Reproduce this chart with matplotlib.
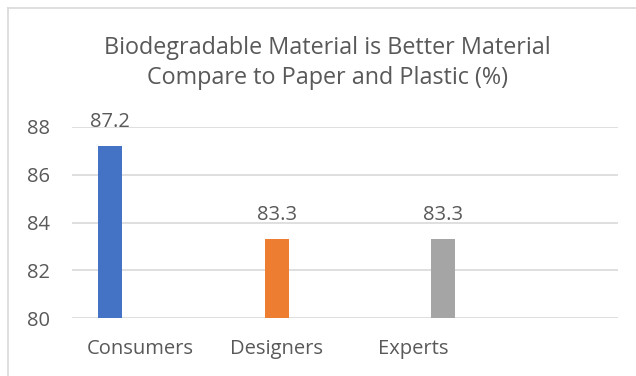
import matplotlib.pyplot as plt
from matplotlib.lines import Line2D

categories = ['Consumers', 'Designers', 'Experts', '']
values = [87.2, 83.3, 83.3]
colors = ['#4472C4', '#ED7D31', '#A5A5A5']
offsets = [-0.22, 0.0, 0.22]
yticks = [80, 82, 84, 86, 88]

plt.rcParams['font.family'] = ['Open Sans', 'DejaVu Sans']
txt = '#595959'

fig = plt.figure(figsize=(6.36, 3.76), dpi=100)
ax = fig.add_axes([72/636, 1-318.3/376, (618-72)/636, (318.3-126.7)/376])

for i, v in enumerate(values):
    x = i + offsets[i]
    ax.bar(x, v - 80, bottom=80, width=0.176, color=colors[i], zorder=3)
    ax.annotate(f'{v}', (x, v), xytext=(0, 10), textcoords='offset points',
                ha='center', va='bottom', fontsize=14.5, color=txt)

ax.set_xlim(-0.5, 3.5)
ax.set_ylim(80, 88)
ax.set_yticks(yticks)
ax.set_xticks(range(len(categories)))
ax.set_xticklabels(categories)
ax.tick_params(length=0, labelsize=14.5, labelcolor=txt)
ax.tick_params(axis='x', pad=15)
ax.tick_params(axis='y', pad=16)
ax.grid(axis='y', color='#D9D9D9', linewidth=1.2, zorder=0)
for s in ax.spines.values():
    s.set_visible(False)

fig.text(327/636, 1-63/376, 'Biodegradable Material is Better Material\nCompare to Paper and Plastic (%)',
         ha='center', va='center', fontsize=16.8, color=txt, linespacing=1.35)

# outer chart border (top and left edges visible)
fig.add_artist(Line2D([8/636, 1], [1-8/376, 1-8/376], color='#D9D9D9', lw=1.2))
fig.add_artist(Line2D([8/636, 8/636], [0, 1-8/376], color='#D9D9D9', lw=1.2))

fig.savefig('out.png', dpi=100)
